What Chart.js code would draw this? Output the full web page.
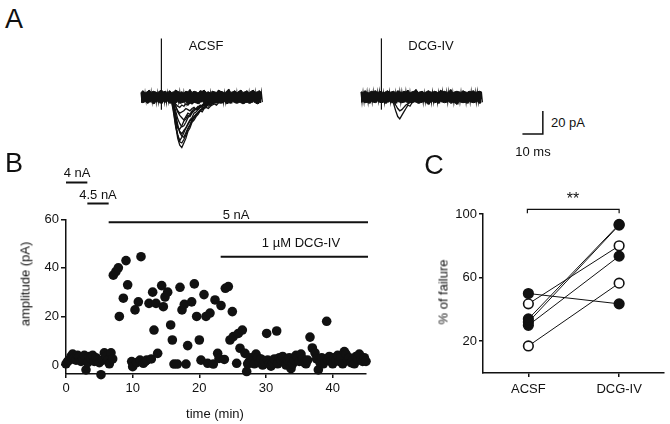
<!DOCTYPE html>
<html><head><meta charset="utf-8">
<script src="https://cdn.jsdelivr.net/npm/chart.js@4.4.1/dist/chart.umd.min.js"></script>
<style>
html,body{margin:0;padding:0;background:#fff;}
#fig{position:relative;width:670px;height:424px;overflow:hidden;font-family:"Liberation Sans",Arial,sans-serif;color:#111;}
#fig canvas{position:absolute;}
.t{position:absolute;white-space:nowrap;line-height:1;transform:translate(-50%,-50%);font-size:13px;}
.r{transform:translate(-50%,-50%) rotate(-90deg);}
.big{font-size:27px;}
</style></head><body>
<div id="fig">
<canvas id="cA1" width="143" height="130" style="left:131px;top:30px"></canvas>
<canvas id="cA2" width="200" height="130" style="left:351px;top:30px"></canvas>
<canvas id="cB" width="380" height="264" style="left:0px;top:160px"></canvas>
<canvas id="cC" width="290" height="264" style="left:380px;top:160px"></canvas>

<div class="t big" style="left:14px;top:19px">A</div>
<div class="t" style="left:206px;top:45px">ACSF</div>
<div class="t" style="left:431px;top:45px">DCG-IV</div>
<div class="t" style="left:568px;top:122px">20 pA</div>
<div class="t" style="left:533px;top:151px">10 ms</div>

<div class="t big" style="left:14px;top:163px">B</div>
<div class="t" style="left:77px;top:172px">4 nA</div>
<div class="t" style="left:98px;top:194px">4.5 nA</div>
<div class="t" style="left:236px;top:214px">5 nA</div>
<div class="t" style="left:301px;top:242px">1 µM DCG-IV</div>
<div class="t r" style="left:25px;top:284px">amplitude (pA)</div>
<div class="t" style="left:215px;top:413px">time (min)</div>

<div class="t big" style="left:434px;top:165px">C</div>
<div class="t" style="left:573px;top:199px;font-size:16px">**</div>
<div class="t r" style="left:443px;top:292px">% of failure</div>
</div>
<script>
// ---------------- DATA ----------------
// Panel A: representative traces (time in ms, current in pA, baseline = 0)
const traceTimeMs = [0,1,2,3,4,5,6,7,8,9,10,11,12,13,14,15,16,17,18,19,20,21,22,23,24,25,26,27,28,29,30,31,32,33,34,35,36,37,38,39,40,41,42,43,44,45,46,47,48,49,50,51,52,53,54,55,56,57,58,59];
const acsfNoiseUpper = [4,5.5,3.5,4.5,6,4,5,4.5,3.5,5, 6,4.5,5,3.5,5.5,4,4.5,6,5,4, 4.5,3.5,5,4.5,6.5,4,5,4.5,3.5,5.5, 5,6,4,4.5,3.5,5,4.5,4,6,5, 4.5,3.5,5,7,4,4.5,5.5,3.5,5,6, 4,4.5,5.5,3.5,5,6,4,4.5,5.5,4];
const acsfNoiseLower = [-4.5,-5,-3.5,-5.5,-4.5,-4,-6,-4.5,-4,-5, -5.5,-4,-4.5,-3.5,-5.5,-4.5,-6,-5,-4,-5.5, -5,-4.5,-4,-6,-5,-5.5,-4.5,-5,-6,-4.5, -4,-5.5,-5,-4,-5,-6,-5.5,-4.5,-5,-5.5, -4.5,-4,-6,-5,-5.5,-4,-5,-5.5,-4.5,-5, -6,-5,-4.5,-5.5,-5,-4,-5,-6,-5,-4.5];
const dcgNoiseUpper = [4.5,4,5.5,4,3.5,5,4.5,5.5,4,4.5, 5,3.5,4.5,5.5,4,4.5,5,3.5,5.5,4.5, 4,5,4.5,6,3.5,4.5,5,6.5,4,4.5, 5,3.5,4.5,5.5,4.5,4,5,4.5,3.5,6, 4.5,5,4,4.5,6.5,3.5,4.5,5,4.5,4, 5.5,4.5,4,5,4.5,5.5,4,4.5,5,4.5];
const dcgNoiseLower = [-4.5,-4,-5,-4.5,-5.5,-4,-4.5,-5,-3.5,-4.5, -5,-4.5,-5.5,-4.5,-4,-5,-4.5,-5.5,-4,-4.5, -5,-4.5,-4,-5.5,-5,-4.5,-4,-4.5,-5.5,-5, -4.5,-4,-5,-6.5,-4.5,-4,-5,-4.5,-5.5,-4, -4.5,-5,-4.5,-4,-5.5,-4.5,-5,-6.5,-4,-4.5, -5,-4.5,-5.5,-4,-4.5,-5,-4.5,-4,-5.5,-4.5];
const stimTimeMs = 10, stimPeakPA = 51, stimDipPA = -11;
const acsfEventTimeMs = [14,15,16,17,18,19,20,21,22,23,24,25,26,27,28,29,30,31,32,33,34,35,36,37,38,39,40,41,42,43,44,45];
const acsfEvents = [
  [-1,-3,-12,-25,-36,-42,-44,-40,-36,-30,-27,-22,-20,-17,-15,-12,-11,-9,-8,-6,-7,-5,-4,-5,-3,-2,-3,-1,-2,0,-1,0],
  [0,-4,-14,-26,-33,-38,-35,-31,-27,-23,-20,-18,-14,-13,-11,-9,-8,-7,-5,-6,-4,-3,-4,-2,-1,-2,0,-1,0,1,-1,0],
  [-1,-2,-8,-18,-26,-30,-32,-29,-27,-24,-21,-19,-17,-15,-14,-12,-13,-10,-9,-10,-8,-7,-6,-7,-5,-4,-5,-3,-2,-3,-1,-2],
  [0,-2,-5,-12,-19,-23,-26,-25,-22,-18,-16,-13,-12,-10,-8,-9,-7,-5,-6,-4,-3,-4,-2,-3,-1,-2,0,-1,1,0,-1,0],
  [1,-1,-3,-8,-13,-16,-18,-20,-17,-14,-15,-12,-10,-11,-9,-7,-8,-6,-5,-6,-4,-3,-4,-2,-3,-1,-2,0,-1,0,1,-1],
  [0,-2,-4,-8,-12,-14,-13,-12,-10,-11,-12,-10,-9,-11,-10,-8,-9,-7,-8,-6,-7,-5,-4,-5,-3,-2,-3,-1,-2,0,-1,0],
  [-1,0,-3,-6,-8,-9,-7,-8,-6,-7,-5,-6,-4,-5,-3,-4,-2,-3,-4,-2,-3,-1,-2,0,-1,-2,0,1,-1,0,0,-1],
  [0,-3,-10,-22,-33,-39,-40,-37,-33,-28,-25,-21,-18,-16,-13,-12,-10,-9,-7,-8,-6,-5,-4,-3,-4,-2,-1,-2,0,-1,0,1],
  [-1,-1,-6,-15,-24,-31,-34,-35,-31,-27,-24,-20,-18,-15,-14,-11,-10,-9,-8,-6,-5,-6,-4,-3,-2,-3,-1,0,-1,0,-1,0],
  [0,-2,-9,-20,-27,-28,-25,-21,-19,-16,-17,-14,-12,-10,-11,-9,-7,-6,-7,-5,-4,-5,-3,-2,-3,-1,-2,0,-1,0,1,0]
];
const dcgEventTimeMs = [14,15,16,17,18,19,20,21,22,23,24,25,26,27,28,29,30];
const dcgEvents = [
  [0,-2,-6,-12,-17,-19,-16,-13,-10,-7,-8,-5,-4,-3,-4,-2,-1],
  [-1,0,-3,-7,-10,-12,-11,-9,-7,-6,-4,-5,-3,-2,-3,-1,0]
];
const scaleBarMs = 10, scaleBarPA = 20;

// Panel B: EPSC amplitude over time
const timeMin = [0,0.25,0.5,0.75,1,1.25,1.5,1.75,2,2.25,2.5,2.75,3,3.25,3.5,3.75,4,4.25,4.5,4.75,5,5.25,5.5,5.75,6,6.25,6.5,6.75,7,
  7.1,7.5,7.85,8,8.6,9.0,9.25,9.85,10,10.35,10.6,10.85,11.1,11.25,11.6,11.9,12.1,12.45,12.8,13,13.2,13.5,13.75,14.35,14.6,14.85,15.25,15.7,15.95,16.2,16.7,17.1,17.4,17.75,18,18.25,18.85,19.25,19.6,20,20.25,20.7,21,21.25,21.6,22.1,22.35,22.75,22.95,23.25,23.75,23.9,24.35,24.6,24.95,25.1,25.6,25.85,26.1,26.45,26.85,27.1,
  27.25,27.5,27.75,28,28.25,28.5,28.75,29,29.25,29.5,29.75,30.1,30.25,30.5,30.75,31,31.25,31.6,31.75,32,32.25,32.5,32.75,33,33.25,33.5,33.75,34,34.25,34.5,34.75,35,35.25,35.5,35.75,36,36.25,36.6,36.95,37.35,37.6,37.85,38.1,38.35,38.6,39.1,39.25,39.5,39.75,40,40.25,40.5,40.75,41,41.25,41.5,41.75,42,42.25,42.5,42.75,43,43.25,43.5,43.75,44,44.25,44.5,44.75,45];
const amplitudePA = [0.5,1.5,2,3.5,4.5,3,2,4,3.5,1.5,2.5,4,-2,1,3.5,2.5,4,1.5,3,2,1,-4,2,5,3.5,2,0.5,5,2.5,
  37,38.5,40,20,27.5,43,33,1.4,-0.7,22.7,1,26,2,44.6,0.7,1.5,2,25.4,2.5,30,14.4,25.4,4.8,32.7,24,28,30,16.5,10.3,0.4,0.4,32,22.7,25,0.4,8,26,33.4,20,10.3,2,29,20,0.7,21.4,0.4,26.8,4.8,2.7,24.5,2.3,31.6,32.3,10.3,22,11.7,0.7,13,6.9,14.4,4.8,-2.7,
  0.5,1.5,3,2,0.5,4.5,3,1,2.5,0,1.5,13,2,0.5,-0.5,1,2.5,14,0.5,3,2,3.5,1,0,2,3,-1.5,0.5,2,4,3,1.5,4.5,2.5,1,0.5,2,11.5,7,5,2.5,-2,1,3,0.5,18,2,3.5,1.5,0.5,3,2,4,1.5,3,0.5,5.5,4.5,2,3,1,2,0.5,3.5,2.5,4.5,2,1.5,3,1.5];
const xTicksB = [0,10,20,30,40];
const yTicksB = [0,20,40,60];
const phaseLabels = ['4 nA','4.5 nA','5 nA','1 µM DCG-IV'];
const phaseStartMin = [0,3.2,6.4,23.2];
const phaseEndMin = [3.2,6.4,45.3,45.3];

// Panel C: % of failure, paired per cell
const conditions = ['ACSF','DCG-IV'];
const failureACSF = [50,43.5,34,32,30,17];
const failureDCG = [43.5,80,93.5,93,73.5,56.5];
const cellFilled = [true,false,true,true,true,false];
const yTicksC = [20,60,100];

// ---------------- STYLE / LAYOUT ----------------
const FONT = '"Liberation Sans", Arial, sans-serif';
const INK = '#111';
const base = {responsive:false, animation:false, events:[], plugins:{legend:{display:false},tooltip:{enabled:false}}};

function traceChart(id, xMin, xMax, noiseU, noiseL, evT, evs, extra){
  const ds = [];
  // envelope of the overlaid sweeps' baseline noise
  ds.push({data: traceTimeMs.map((t,i)=>({x:t,y:noiseU[i]})), borderColor:INK, borderWidth:1, pointRadius:0, fill:'+1', backgroundColor:INK});
  ds.push({data: traceTimeMs.map((t,i)=>({x:t,y:noiseL[i]})), borderColor:INK, borderWidth:1, pointRadius:0, fill:false});
  // oscilloscope-style sweep alternating between noise extremes
  const sweep = [];
  traceTimeMs.forEach((t,i)=>{ sweep.push({x:t,y:noiseU[i]}); sweep.push({x:t+0.5,y:noiseL[i]}); });
  ds.push({data: sweep, borderColor:INK, borderWidth:1.2, pointRadius:0, fill:false});
  evs.forEach(ev=>ds.push({data: evT.map((t,i)=>({x:t,y:ev[i]})), borderColor:INK, borderWidth:1.3, pointRadius:0, fill:false}));
  ds.push({data:[{x:stimTimeMs,y:stimDipPA},{x:stimTimeMs,y:stimPeakPA}], borderColor:INK, borderWidth:1.2, pointRadius:0, fill:false});
  (extra||[]).forEach(e=>ds.push(e));
  return new Chart(document.getElementById(id), {
    type:'line',
    data:{datasets:ds.map(d=>Object.assign({tension:0}, d))},
    options:Object.assign({}, base, {
      layout:{padding:0},
      scales:{x:{type:'linear',display:false,min:xMin,max:xMax}, y:{display:false,min:-54.8,max:58.3}}
    })
  });
}
traceChart('cA1', -4.9, 65.2, acsfNoiseUpper, acsfNoiseLower, acsfEventTimeMs, acsfEvents);
const barCorner = {x:89.1, y:-32.2};
traceChart('cA2', -4.9, 93.1, dcgNoiseUpper, dcgNoiseLower, dcgEventTimeMs, dcgEvents, [
  {data:[{x:barCorner.x-scaleBarMs,y:barCorner.y},{x:barCorner.x,y:barCorner.y},{x:barCorner.x,y:barCorner.y+scaleBarPA}], borderColor:INK, borderWidth:1.5, pointRadius:0, fill:false}
]);

function axisCommon(tickLen, pad, cb){
  const ticks = {font:{family:FONT,size:13}, color:INK, padding:pad, autoSkip:false, maxRotation:0};
  if (cb) ticks.callback = cb;
  return {
    grid:{drawOnChartArea:false, drawTicks:true, tickLength:tickLen, color:INK, lineWidth:1.5},
    border:{display:true, color:INK, width:1.5},
    ticks
  };
}

// Panel B
const phaseBarY = [182.5, 203.5, 222.3, 256.7]; // page px
const phasePlugin = {
  id:'phases',
  afterDatasetsDraw(chart){
    const ctx = chart.ctx, xs = chart.scales.x;
    ctx.save(); ctx.strokeStyle = INK; ctx.lineWidth = 2;
    phaseStartMin.forEach((s,i)=>{
      const y = phaseBarY[i]-160;
      ctx.beginPath(); ctx.moveTo(xs.getPixelForValue(s), y); ctx.lineTo(xs.getPixelForValue(phaseEndMin[i]), y); ctx.stroke();
    });
    ctx.restore();
  }
};
new Chart(document.getElementById('cB'), {
  type:'scatter',
  data:{datasets:[{data: timeMin.map((t,i)=>({x:t,y:amplitudePA[i]})), pointRadius:4.8, pointBackgroundColor:INK, pointBorderWidth:0, clip:false}]},
  options:Object.assign({}, base, {
    layout:{padding:{top:59.3,right:14,left:0,bottom:0}},
    scales:{
      x:Object.assign(axisCommon(4, 3), {type:'linear', min:0, max:45, afterBuildTicks:s=>{s.ticks=xTicksB.map(v=>({value:v}));}, afterFit:s=>{s.height=50;}}),
      y:Object.assign(axisCommon(5, 2), {type:'linear', min:-3.7, max:60, afterBuildTicks:s=>{s.ticks=yTicksB.map(v=>({value:v}));}, afterFit:s=>{s.width=66;}})
    }
  }),
  plugins:[phasePlugin]
});

// Panel C
const bracketPlugin = {
  id:'bracket',
  afterDatasetsDraw(chart){
    const ctx = chart.ctx, xs = chart.scales.x;
    const y = 209.3-160, yEnd = 213.3-160;
    const x0 = xs.getPixelForValue(0)-1, x1 = xs.getPixelForValue(1);
    ctx.save(); ctx.strokeStyle = INK; ctx.lineWidth = 1.2;
    ctx.beginPath(); ctx.moveTo(x0,yEnd); ctx.lineTo(x0,y); ctx.lineTo(x1,y); ctx.lineTo(x1,yEnd); ctx.stroke();
    ctx.restore();
  }
};
new Chart(document.getElementById('cC'), {
  type:'scatter',
  data:{datasets: failureACSF.map((a,i)=>({
    data:[{x:0,y:a},{x:1,y:failureDCG[i]}], showLine:true, borderColor:INK, borderWidth:1,
    pointRadius:4.8, pointBorderWidth:1.6, pointBorderColor:INK,
    pointBackgroundColor: cellFilled[i] ? INK : '#fff', clip:false
  }))},
  options:Object.assign({}, base, {
    layout:{padding:{top:54,right:5,left:0,bottom:0}},
    scales:{
      x:Object.assign(axisCommon(4, 5, v=>conditions[v]), {type:'linear', min:-0.5, max:1.49, afterBuildTicks:s=>{s.ticks=conditions.map((c,i)=>({value:i}));}, afterFit:s=>{s.height=51;}}),
      y:Object.assign(axisCommon(4, 2), {type:'linear', min:0, max:100, afterBuildTicks:s=>{s.ticks=yTicksC.map(v=>({value:v}));}, afterFit:s=>{s.width=103;}})
    }
  }),
  plugins:[bracketPlugin]
});
</script>
</body></html>
